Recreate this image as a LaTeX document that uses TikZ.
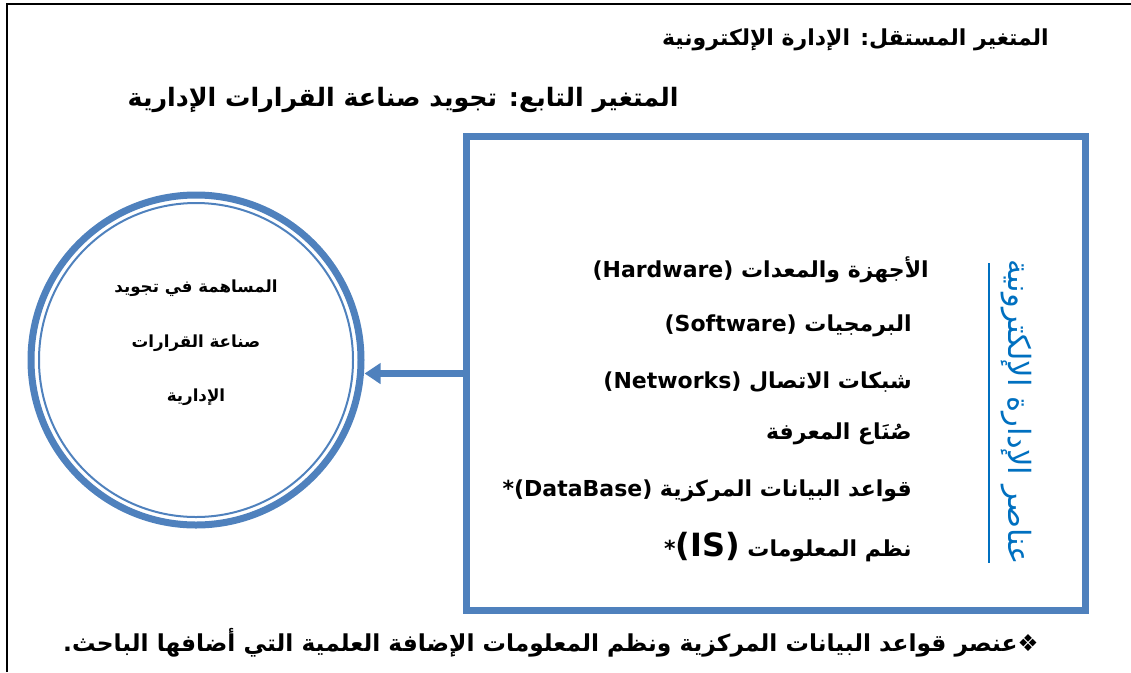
\documentclass[tikz,border=0pt]{standalone}
\usepackage{fontspec}
\usepackage{xcolor}
\usepackage{tikz}
\usetikzlibrary{arrows.meta}
\TeXXeTstate=1
\newfontfamily\arabicfont[Script=Arabic]{DejaVu Sans}
\definecolor{frameblue}{RGB}{79,129,189}
\definecolor{labelblue}{RGB}{0,112,192}

\begin{document}
\begin{tikzpicture}[x=0.75pt,y=0.75pt,yscale=-1,xscale=1,
  title/.style={anchor=east,inner sep=0.75pt,font=\arabicfont\bfseries\fontsize{16.5}{20}\selectfont},
  item/.style={anchor=east,inner sep=0.75pt,font=\arabicfont\bfseries\fontsize{16.5}{20}\selectfont},
  ring/.style={draw=frameblue,line width=5.25pt},
  ]
\useasboundingbox (0,0) rectangle (1131,672);
%Straight Lines (frame)
\draw [line width=1.5]  (7,672) -- (7,4) -- (1131,4) ;
% Text Node
\node (indep) at (1050,40) [title] {\beginR المتغير المستقل:  الإدارة الإلكترونية\endR};
% Text Node
\node (dep) at (680,100) [title,font=\arabicfont\bfseries\fontsize{19}{23}\selectfont] {\beginR المتغير التابع: تجويد صناعة القرارات الإدارية\endR};
%Shape: Rectangle
\node (elements) at (775.75,373.5) [ring,rectangle,minimum width=463.9pt,minimum height=355.5pt] {};
%Shape: Circle
\node (effect) at (196,360) [ring,circle,minimum size=247.5pt] {};
\draw [color=frameblue,line width=1.5] (effect.center) circle [radius=157] ;
% Text Node
\node (effectlabel) at (196,343) [align=center,inner sep=0.75pt,font=\arabicfont\bfseries\fontsize{12.5}{41}\selectfont] {\beginR المساهمة في تجويد\endR\\ \beginR صناعة  القرارات\endR\\ \beginR الإدارية\endR};
%Straight Lines (arrow)
\draw [color=frameblue,line width=5.25pt,-{Triangle[length=12pt,width=15pt]}] (elements.west) -- (effect.east |- elements.west) ;
% Text Node
\node (hardware) at (930,270) [item] {\beginR الأجهزة والمعدات \beginL(Hardware)\endL\endR};
\node (software) at (913,326) [item] {\beginR البرمجيات \beginL(Software)\endL\endR};
\node (networks) at (913,382) [item] {\beginR شبكات الاتصال \beginL(Networks)\endL\endR};
\node (makers) at (913,434) [item] {\beginR صُنَاع المعرفة\endR};
\node (database) at (913,491) [item] {\beginR قواعد البيانات المركزية \beginL(DataBase)\endL*\endR};
\node (infosys) at (913,547) [item] {\beginR نظم المعلومات \beginL{\fontsize{24}{24}\selectfont(IS)}\endL*\endR};
%Straight Lines (side rule)
\coordinate (ruletop) at (989,263);
\coordinate (rulebottom) at (989,563);
\draw [color=labelblue,line width=1.5] (ruletop) -- (rulebottom) ;
% Text Node
\node (sidelabel) at (1016,412) [rotate=-90,text=labelblue,inner sep=0.75pt,font=\arabicfont\fontsize{23}{27}\selectfont] {\beginR عناصر الإدارة الإلكترونية\endR};
% Text Node
\node (note) at (1040,643) [title,font=\arabicfont\bfseries\fontsize{17.5}{21}\selectfont] {\beginR ❖عنصر قواعد البيانات المركزية ونظم المعلومات الإضافة العلمية التي أضافها الباحث.\endR};
\end{tikzpicture}
\end{document}
